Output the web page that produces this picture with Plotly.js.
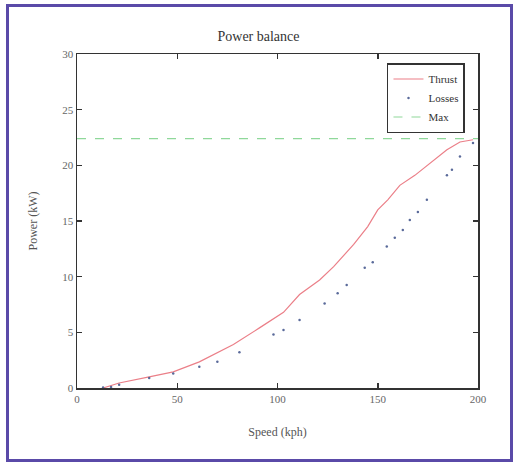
<!DOCTYPE html>
<html>
<head>
<meta charset="utf-8">
<script src="https://cdn.plot.ly/plotly-3.0.1.min.js"></script>
<style>
  html, body { margin: 0; padding: 0; background: #ffffff; }
  #wrap { position: relative; width: 517px; height: 463px; }
  #chart { width: 517px; height: 463px; }
  #frame { position: absolute; left: 6px; top: 4px; width: 501px; height: 452px;
           border: 3px solid #5a4aa8; pointer-events: none; }
</style>
</head>
<body>
<div id="wrap">
  <div id="chart"></div>
  <div id="frame"></div>
</div>
<script>
// Data
var thrustSpeed = [13, 21, 36, 48, 61, 78, 91, 103, 111, 121, 128, 138, 145, 150, 155, 161, 168.5, 176, 184.5, 191, 197.5];
var thrustPower = [0, 0.45, 1.0, 1.45, 2.35, 3.9, 5.4, 6.8, 8.4, 9.7, 10.9, 12.9, 14.5, 16.0, 16.9, 18.2, 19.1, 20.2, 21.4, 22.1, 22.3];

var lossSpeed = [13, 17, 21, 36, 48, 61, 70, 81, 98, 103, 111, 123.5, 130, 134.5, 143.5, 147.5, 154.5, 158.5, 162.5, 166, 170, 174.5, 184.5, 187, 191, 197.5];
var lossPower = [0.05, 0.1, 0.3, 0.9, 1.3, 1.9, 2.35, 3.2, 4.8, 5.2, 6.1, 7.6, 8.5, 9.25, 10.8, 11.3, 12.7, 13.5, 14.2, 15.1, 15.8, 16.9, 19.1, 19.6, 20.8, 22.0];

var maxSpeed = [0, 200];
var maxPower = [22.4, 22.4];

var xTicks = [0, 50, 100, 150, 200];
var yTicks = [0, 5, 10, 15, 20, 25, 30];

var font = 'Liberation Serif, Times New Roman, serif';

var traces = [
  { x: thrustSpeed, y: thrustPower, name: 'Thrust', mode: 'lines',
    line: { color: '#eb7f88', width: 1.2 } },
  { x: lossSpeed, y: lossPower, name: 'Losses', mode: 'markers',
    marker: { color: '#5a6a9a', size: 2.5 } },
  { x: maxSpeed, y: maxPower, name: 'Max', mode: 'lines',
    line: { color: '#8fd89a', width: 1.2, dash: 'dash' } }
];

var axisCommon = {
  showline: true, linecolor: '#333333', linewidth: 1.5, mirror: 'ticks',
  ticks: 'inside', ticklen: 5, tickcolor: '#333333', tickwidth: 1.5,
  showgrid: false, zeroline: false,
  tickfont: { family: font, size: 11, color: '#666666' }
};

var layout = {
  width: 517, height: 463,
  paper_bgcolor: '#ffffff', plot_bgcolor: '#ffffff',
  margin: { l: 77, r: 39, t: 54, b: 75 },
  title: { text: 'Power balance', font: { family: font, size: 14, color: '#333333' },
           x: 0.5, xanchor: 'center', y: 0.922, yanchor: 'middle' },
  xaxis: Object.assign({}, axisCommon, {
    range: [0, 200], tickvals: xTicks, ticktext: xTicks.map(String),
    title: { text: 'Speed (kph)', font: { family: font, size: 12, color: '#555555' }, standoff: 24 }
  }),
  yaxis: Object.assign({}, axisCommon, {
    range: [0, 30], tickvals: yTicks, ticktext: yTicks.map(String),
    title: { text: 'Power (kW)', font: { family: font, size: 12, color: '#555555' }, standoff: 22 }
  }),
  showlegend: true,
  legend: {
    x: 0.773, y: 0.973, xanchor: 'left', yanchor: 'top',
    bgcolor: '#ffffff', bordercolor: '#333333', borderwidth: 1.5,
    font: { family: font, size: 11, color: '#333333' },
    tracegroupgap: 0, itemwidth: 30
  }
};

Plotly.newPlot('chart', traces, layout, { displayModeBar: false, staticPlot: true });
</script>
</body>
</html>
